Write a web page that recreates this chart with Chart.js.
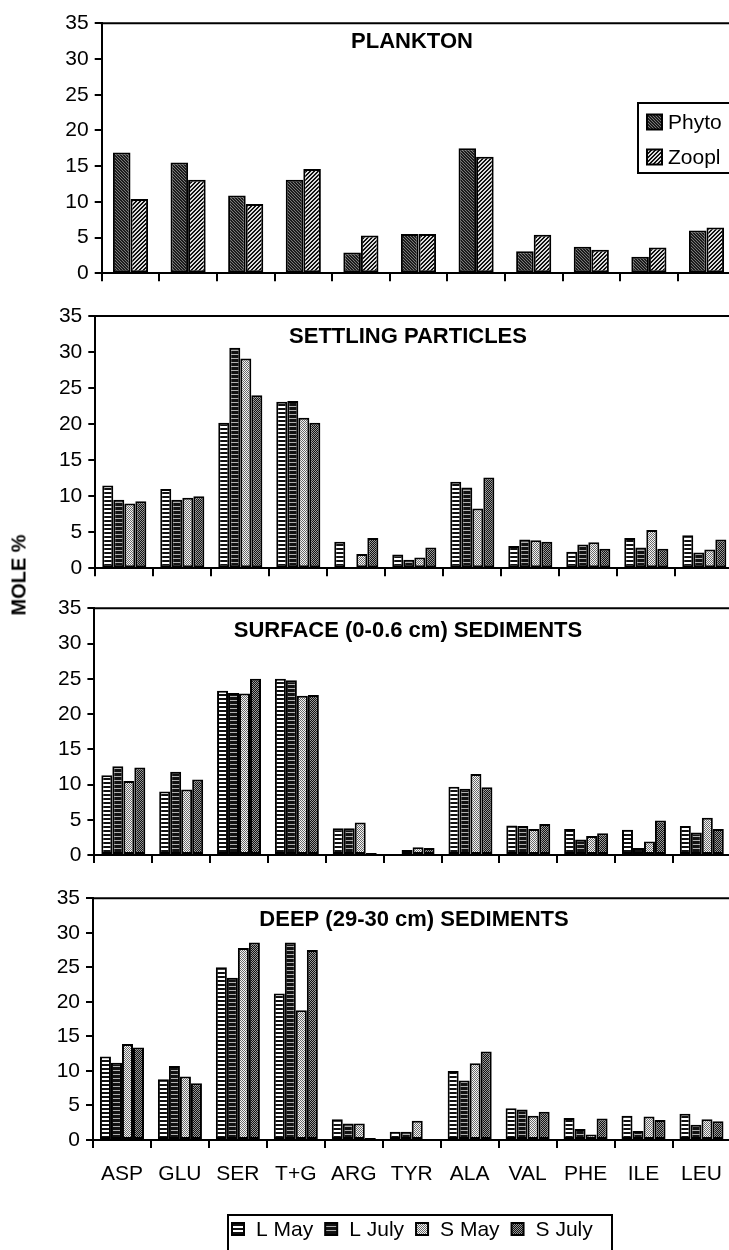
<!DOCTYPE html>
<html>
<head>
<meta charset="utf-8">
<script src="https://cdn.jsdelivr.net/npm/chart.js@4.4.0/dist/chart.umd.min.js"></script>
<style>
  html, body { margin: 0; padding: 0; background: #fff; overflow: hidden; }
  #page { position: relative; width: 729px; height: 1250px; overflow: hidden; background: #fff; }
  #page canvas { position: absolute; left: 0; }
  #ytitle {
    position: absolute; left: 19px; top: 575px;
    transform: translate(-50%, -50%) rotate(-90deg);
    font: bold 20px "Liberation Sans", Arial, sans-serif; white-space: nowrap; color: #000;
  }
</style>
</head>
<body>
<div id="page">
  <canvas id="plankton" width="760" height="300" style="top:0px"></canvas>
  <canvas id="settling" width="760" height="300" style="top:290px"></canvas>
  <canvas id="surface" width="760" height="300" style="top:580px"></canvas>
  <canvas id="deep" width="760" height="380" style="top:870px"></canvas>
  <div id="ytitle">MOLE %</div>
</div>
<script>
// Acides aminés (axe des x commun)
const aminoAcids = ['ASP', 'GLU', 'SER', 'T+G', 'ARG', 'TYR', 'ALA', 'VAL', 'PHE', 'ILE', 'LEU'];

// Plankton
const planktonPhyto = [16.9, 15.5, 10.9, 13.1, 2.9, 5.5, 17.5, 3.1, 3.7, 2.3, 6.0];
const planktonZoopl = [10.4, 13.1, 9.7, 14.6, 5.3, 5.5, 16.3, 5.4, 3.3, 3.6, 6.4];

// Settling particles
const settlingLMay  = [11.5, 11.0, 20.2, 23.1, 3.7, 1.9, 12.0, 3.1, 2.3, 4.2, 4.6];
const settlingLJuly = [9.5, 9.5, 30.6, 23.2, 0, 1.2, 11.2, 4.0, 3.3, 2.9, 2.2];
const settlingSMay  = [9.0, 9.8, 29.1, 20.9, 2.0, 1.5, 8.3, 3.9, 3.6, 5.3, 2.6];
const settlingSJuly = [9.3, 10.0, 24.0, 20.2, 4.2, 2.9, 12.6, 3.7, 2.7, 2.7, 4.0];

// Surface (0-0.6 cm) sediments
const surfaceLMay  = [11.3, 9.0, 23.3, 25.0, 3.8, 0, 9.7, 4.2, 3.7, 3.6, 4.1];
const surfaceLJuly = [12.6, 11.8, 23.0, 24.8, 3.8, 0.7, 9.4, 4.1, 2.2, 1.0, 3.2];
const surfaceSMay  = [10.5, 9.3, 22.9, 22.6, 4.6, 1.1, 11.5, 3.7, 2.7, 1.9, 5.3];
const surfaceSJuly = [12.4, 10.7, 25.0, 22.7, 0.3, 1.0, 9.6, 4.4, 3.1, 4.9, 3.7];

// Deep (29-30 cm) sediments
const deepLMay  = [12.1, 8.8, 25.0, 21.2, 3.0, 1.2, 10.0, 4.6, 3.2, 3.5, 3.8];
const deepLJuly = [11.2, 10.7, 23.5, 28.6, 2.4, 1.2, 8.6, 4.4, 1.6, 1.3, 2.2];
const deepSMay  = [13.9, 9.2, 27.8, 18.8, 2.4, 2.8, 11.1, 3.5, 0.8, 3.4, 3.0];
const deepSJuly = [13.4, 8.2, 28.6, 27.5, 0.3, 0, 12.8, 4.1, 3.1, 2.9, 2.7];

const FONT = '"Liberation Sans", Arial, sans-serif';

/**
 * Crée un motif de remplissage (hachures / points) à partir d'une petite tuile.
 */
function makePattern(size, paint) {
    const tile = document.createElement('canvas');
    tile.width = size;
    tile.height = size;
    const g = tile.getContext('2d');
    paint(g, size);
    return g.createPattern(tile, 'repeat');
}

function pixelPattern(size, test, on, off) {
    return makePattern(size, (g, n) => {
        for (let x = 0; x < n; x++) {
            for (let y = 0; y < n; y++) {
                g.fillStyle = test(x, y) ? on : off;
                g.fillRect(x, y, 1, 1);
            }
        }
    });
}

const fills = {
    phyto: pixelPattern(3, (x, y) => (x - y + 3) % 3 === 0, '#7a7a7a', '#1c1c1c'),
    zoopl: pixelPattern(4, (x, y) => (x + y) % 4 < 2, '#111111', '#dcdcdc'),
    lMay:  pixelPattern(4, (x, y) => y >= 2, '#111111', '#ffffff'),
    lJuly: pixelPattern(4, (x, y) => y === 0, '#b0b0b0', '#111111'),
    sMay:  pixelPattern(2, (x, y) => (x + y) % 2 === 0, '#6a6a6a', '#f4f4f4'),
    sJuly: pixelPattern(2, (x, y) => (x + y) % 2 === 0, '#999999', '#111111')
};

// Titre du panneau, cadre supérieur et légende encadrée
const panelDecor = {
    id: 'panelDecor',
    afterDraw(chart, args, opts) {
        const ctx = chart.ctx;
        const area = chart.chartArea;
        const dy = opts.canvasTop;
        ctx.save();

        ctx.strokeStyle = '#000';
        ctx.lineWidth = 2;
        ctx.beginPath();
        ctx.moveTo(area.left - 1, area.top);
        ctx.lineTo(area.right, area.top);
        ctx.stroke();

        ctx.fillStyle = '#000';
        ctx.font = `bold 22px ${FONT}`;
        ctx.textAlign = 'center';
        ctx.textBaseline = 'middle';
        ctx.fillText(opts.title, opts.titleX, opts.titleY - dy);

        const lg = opts.legend;
        if (lg) {
            ctx.lineWidth = 2;
            ctx.strokeRect(lg.x, lg.y - dy, lg.w, lg.h);
            ctx.font = `21px ${FONT}`;
            ctx.textAlign = 'left';
            let x = lg.x + lg.padX;
            chart.data.datasets.forEach((ds, i) => {
                const cy = (lg.vertical ? lg.rowY[i] : lg.rowY[0]) - dy;
                const mx = lg.vertical ? lg.x + lg.padX : x;
                ctx.fillStyle = ds.backgroundColor;
                ctx.fillRect(mx, cy - lg.box / 2, lg.box, lg.box);
                ctx.lineWidth = 2;
                ctx.strokeRect(mx, cy - lg.box / 2, lg.box, lg.box);
                ctx.fillStyle = '#000';
                const tx = mx + lg.box + lg.gap;
                ctx.fillText(ds.label, tx, cy + 1);
                x = tx + ctx.measureText(ds.label).width + lg.itemGap;
            });
        }
        ctx.restore();
    }
};

/**
 * Construit un panneau (graphique en barres groupées) aligné sur la mise en page de référence.
 */
function buildPanel(cfg) {
    const canvas = document.getElementById(cfg.id);
    const canvasTop = parseFloat(canvas.style.top);
    const W = canvas.width;
    const H = canvas.height;
    const right = cfg.axisX + aminoAcids.length * cfg.step;

    return new Chart(canvas.getContext('2d'), {
        type: 'bar',
        data: {
            labels: aminoAcids,
            datasets: cfg.series.map(s => ({
                label: s.label,
                data: s.data,
                backgroundColor: s.fill,
                borderColor: '#000',
                borderWidth: 2,
                borderSkipped: false,
                categoryPercentage: cfg.catPct,
                barPercentage: 1
            }))
        },
        options: {
            responsive: false,
            animation: false,
            devicePixelRatio: 1,
            layout: { padding: { top: cfg.y35 - canvasTop, right: W - right, left: 0, bottom: 0 } },
            scales: {
                x: {
                    offset: true,
                    grid: { offset: true, drawOnChartArea: false, drawTicks: true, tickLength: 8, color: '#000', lineWidth: 2 },
                    border: { display: true, color: '#000', width: 2 },
                    ticks: { display: cfg.showLabels, color: '#000', font: { family: FONT, size: 21 }, padding: 14, maxRotation: 0, autoSkip: false },
                    afterFit: s => { s.height = H - (cfg.y0 - canvasTop); }
                },
                y: {
                    min: 0,
                    max: 35,
                    grid: { drawOnChartArea: false, drawTicks: true, tickLength: 7, color: '#000', lineWidth: 2 },
                    border: { display: true, color: '#000', width: 2 },
                    ticks: { stepSize: 5, color: '#000', font: { family: FONT, size: 21 }, padding: 6 },
                    afterFit: s => { s.width = cfg.axisX; }
                }
            },
            plugins: {
                legend: { display: false },
                tooltip: { enabled: false },
                panelDecor: { canvasTop, title: cfg.title, titleX: cfg.titleX, titleY: cfg.titleY, legend: cfg.legend }
            }
        },
        plugins: [panelDecor]
    });
}

const fourSeries = (lm, lj, sm, sj) => [
    { label: 'L May', data: lm, fill: fills.lMay },
    { label: 'L July', data: lj, fill: fills.lJuly },
    { label: 'S May', data: sm, fill: fills.sMay },
    { label: 'S July', data: sj, fill: fills.sJuly }
];

buildPanel({
    id: 'plankton', title: 'PLANKTON', titleX: 412, titleY: 42,
    axisX: 101.7, step: 57.6, y35: 23.3, y0: 273.3, catPct: 0.61, showLabels: false,
    series: [
        { label: 'Phyto', data: planktonPhyto, fill: fills.phyto },
        { label: 'Zoopl', data: planktonZoopl, fill: fills.zoopl }
    ],
    legend: { x: 638, y: 103, w: 110, h: 70, padX: 9, box: 15, gap: 6, itemGap: 0, vertical: true, rowY: [122, 157] }
});

buildPanel({
    id: 'settling', title: 'SETTLING PARTICLES', titleX: 408, titleY: 337,
    axisX: 95.3, step: 58.0, y35: 316, y0: 568.3, catPct: 0.76, showLabels: false,
    series: fourSeries(settlingLMay, settlingLJuly, settlingSMay, settlingSJuly)
});

buildPanel({
    id: 'surface', title: 'SURFACE (0-0.6 cm) SEDIMENTS', titleX: 408, titleY: 631,
    axisX: 94.4, step: 57.85, y35: 608.3, y0: 855, catPct: 0.76, showLabels: false,
    series: fourSeries(surfaceLMay, surfaceLJuly, surfaceSMay, surfaceSJuly)
});

buildPanel({
    id: 'deep', title: 'DEEP (29-30 cm) SEDIMENTS', titleX: 414, titleY: 920,
    axisX: 93, step: 57.95, y35: 898.3, y0: 1140, catPct: 0.76, showLabels: true,
    series: fourSeries(deepLMay, deepLJuly, deepSMay, deepSJuly),
    legend: { x: 228, y: 1215, w: 384, h: 45, padX: 4, box: 12, gap: 12, itemGap: 12, vertical: false, rowY: [1229] }
});
</script>
</body>
</html>
